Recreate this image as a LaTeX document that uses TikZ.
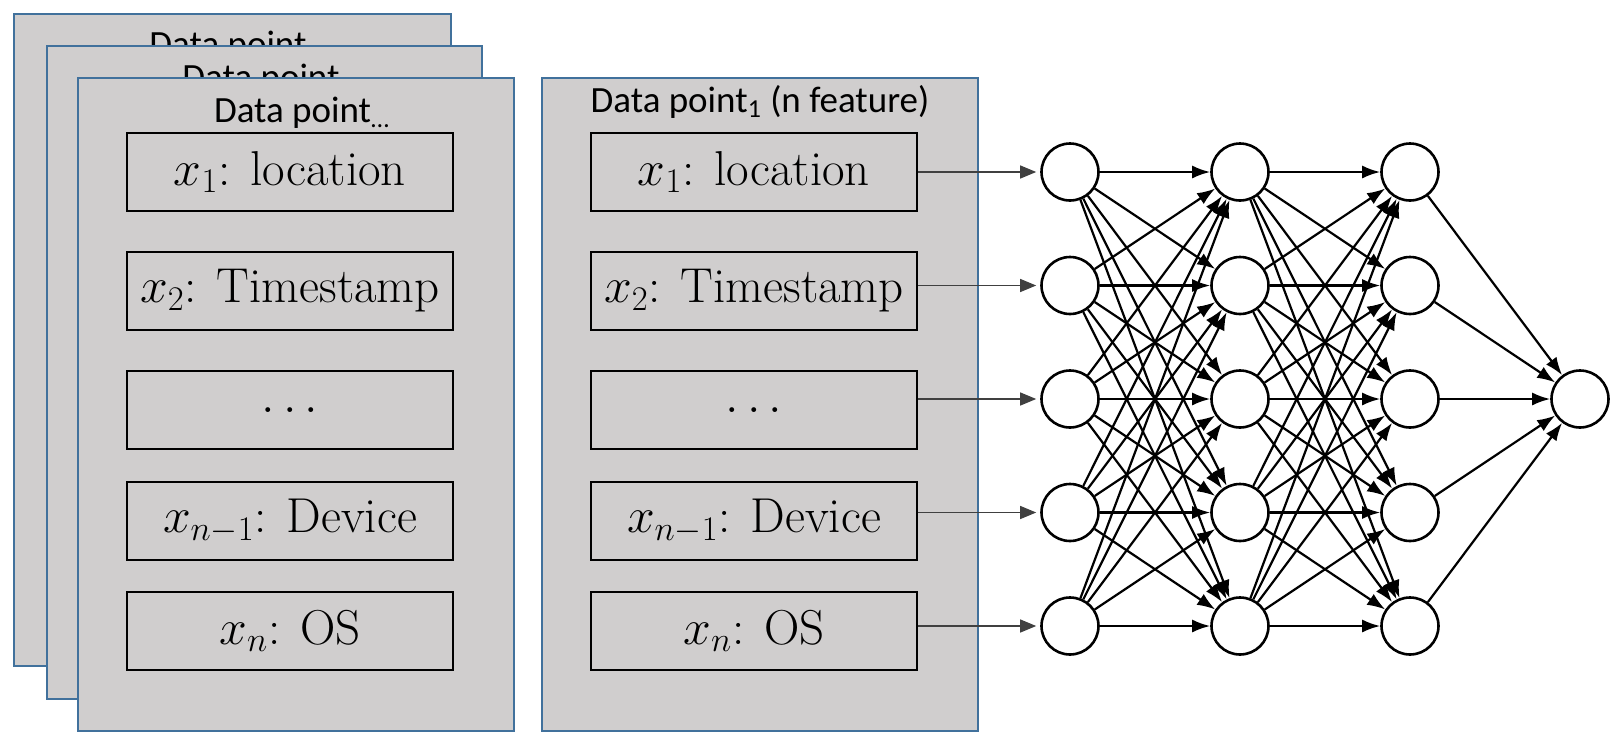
\documentclass[tikz,border=0pt]{standalone}
\usepackage{fontspec}
\usepackage{tikz}
\usetikzlibrary{arrows.meta,calc,positioning}
\newfontfamily\titlefont{Carlito}
\definecolor{cardgray}{HTML}{D0CECE}
\definecolor{cardblue}{HTML}{41719C}
\definecolor{arrowgray}{HTML}{404040}

\begin{document}
\begin{tikzpicture}[x=0.5pt, y=-0.5pt,
    card/.style={fill=cardgray, draw=cardblue, line width=1pt},
    feat/.style={draw=black, fill=cardgray, line width=0.8pt, minimum width=163pt, minimum height=39pt, inner sep=0pt, font=\fontsize{24.5}{29}\selectfont},
    cardtitle/.style={anchor=base, inner sep=0pt, font=\titlefont\fontsize{18.5}{22}\selectfont},
    neuron/.style={circle, draw=black, line width=1.3pt, fill=white, minimum size=28.5pt, inner sep=0pt},
    edge/.style={-{Latex[length=9pt,width=6.5pt]}, line width=1.1pt},
    inarrow/.style={-{Triangle[length=8pt,width=6.5pt]}, draw=arrowgray, line width=0.6pt, shorten >=2pt}]

    \useasboundingbox (0,0) rectangle (1614,735);

    % Stacked data points (back)
    \draw[card] (14,14) rectangle (451,666);
    \node[cardtitle] (t1) at (228,56) {Data point};
    \draw[card] (47,46) rectangle (482,699);
    \node[cardtitle] (t2) at (261,89) {Data point};
    \draw[card] (78,78) rectangle (514,731);
    \node[cardtitle] (t3) at (302,122) {Data point\textsubscript{…}};

    % Front data point
    \draw[card] (542,78) rectangle (978,731);
    \node[cardtitle] (t4) at (760,112) {Data point\textsubscript{1} (n feature)};

    % Features
    \foreach \y/\txt [count=\r] in {172/{$x_1$: location}, 291/{$x_2$: Timestamp}, 410/{$\dots$}, 521/{$x_{n-1}$: Device}, 631/{$x_n$: OS}} {
        \node[feat] (g\r) at (290,\y) {\txt};
        \node[feat] (f\r) at (754,\y) {\txt};
    }

    % Network
    \foreach \l in {1,2,3}
        \foreach \r in {1,...,5}
            \node[neuron] (n\l-\r) at ({1070+170*(\l-1)},{172+113.5*(\r-1)}) {};
    \node[neuron] (out) at (1580,399) {};

    \foreach \a in {1,...,5} {
        \foreach \b in {1,...,5} {
            \draw[edge] (n1-\a) -- (n2-\b);
            \draw[edge] (n2-\a) -- (n3-\b);
        }
        \draw[edge] (n3-\a) -- (out);
    }

    % Inputs
    \foreach \r in {1,...,5}
        \draw[inarrow] (f\r.east |- n1-\r) -- (n1-\r);
\end{tikzpicture}
\end{document}
